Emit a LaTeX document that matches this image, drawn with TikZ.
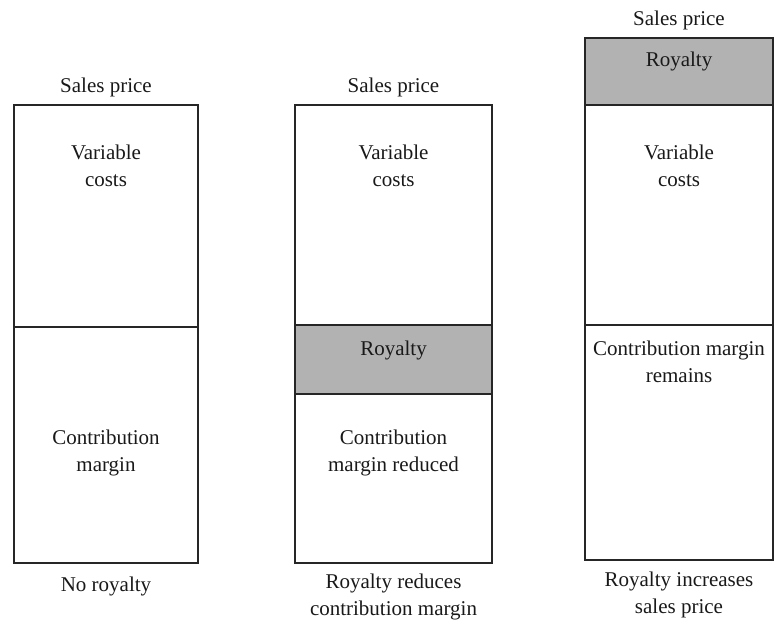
\documentclass[tikz,border=0pt]{standalone}
\usepackage{fontspec}
\setmainfont{Liberation Serif}
\begin{document}
\begin{tikzpicture}[x=1pt,y=-1pt,
  region/.style={draw=black!85, line width=1.3pt, inner sep=0pt, outer sep=0pt, anchor=north west},
  shaded/.style={region, fill=black!30},
  lbl/.style={font=\fontsize{21}{26.5}\selectfont, align=center, inner sep=0pt, text=black!90}]
\useasboundingbox (0,0) rectangle (775,619);
% column 1
\node[region, minimum width=184pt, minimum height=222pt] (vc1) at (14,105) {};
\node[region, minimum width=184pt, minimum height=236pt] (cm1) at (14,327) {};
% column 2
\node[region, minimum width=197pt, minimum height=220pt] (vc2) at (295,105) {};
\node[shaded, minimum width=197pt, minimum height=69pt] (ro2) at (295,325) {};
\node[region, minimum width=197pt, minimum height=169pt] (cm2) at (295,394) {};
% column 3
\node[shaded, minimum width=188pt, minimum height=67pt] (ro3) at (585,38) {};
\node[region, minimum width=188pt, minimum height=220pt] (vc3) at (585,105) {};
\node[region, minimum width=188pt, minimum height=235pt] (cm3) at (585,325) {};
% texts column 1
\node[lbl] (sp1) at (106,87) {Sales price};
\node[lbl] (tv1) at (106,166) {Variable\\costs};
\node[lbl] (tc1) at (106,453) {Contribution\\margin};
\node[lbl] (nr1) at (106,586) {No royalty};
% texts column 2
\node[lbl] (sp2) at (393.5,87) {Sales price};
\node[lbl] (tv2) at (393.5,166) {Variable\\costs};
\node[lbl] (tr2) at (393.5,350) {Royalty};
\node[lbl] (tc2) at (393.5,453) {Contribution\\margin reduced};
\node[lbl] (nr2) at (393.5,597) {Royalty reduces\\contribution margin};
% texts column 3
\node[lbl] (sp3) at (679,20) {Sales price};
\node[lbl] (tr3) at (679,61) {Royalty};
\node[lbl] (tv3) at (679,166) {Variable\\costs};
\node[lbl] (tc3) at (679,362) {Contribution margin\\remains};
\node[lbl] (nr3) at (679,595) {Royalty increases\\sales price};
\end{tikzpicture}
\end{document}
